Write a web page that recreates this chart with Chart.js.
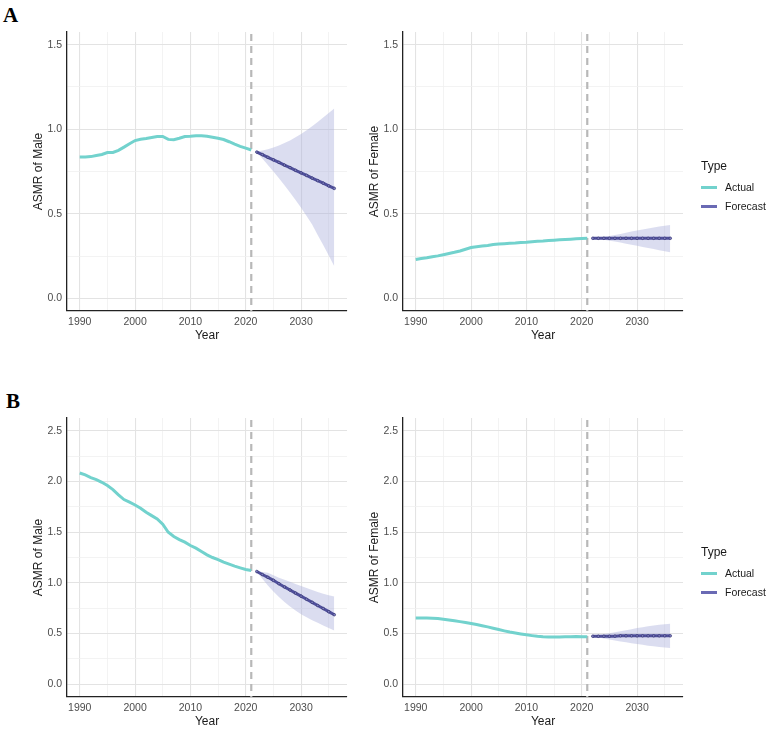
<!DOCTYPE html>
<html>
<head>
<meta charset="utf-8">
<script src="https://cdn.jsdelivr.net/npm/chart.js@4.4.1/dist/chart.umd.min.js"></script>
<style>
  body { margin: 0; width: 767px; height: 730px; background: #fff; position: relative; overflow: hidden;
         font-family: "Liberation Sans", Arial, sans-serif; }
  canvas { position: absolute; }
  .tag { position: absolute; font-family: "Liberation Serif", "Times New Roman", serif; font-weight: bold; font-size: 21px; color: #000; line-height: 1; }
  .lg { position: absolute; left: 701px; color: #1a1a1a; line-height: 1; }
  .lg .title { font-size: 12px; }
  .lg .row { font-size: 10.5px; position: absolute; left: 0; white-space: nowrap; }
  .lg .key { display: inline-block; width: 16px; height: 3px; vertical-align: middle; margin-right: 8px; position: relative; top: -1px; }
</style>
</head>
<body>
<div class="tag" style="left:3px;top:5px">A</div>
<div class="tag" style="left:6px;top:391px">B</div>

<canvas id="aMale" width="360" height="324" style="left:0;top:20px"></canvas>
<canvas id="aFemale" width="360" height="324" style="left:336px;top:20px"></canvas>
<canvas id="bMale" width="360" height="324" style="left:0;top:406px"></canvas>
<canvas id="bFemale" width="360" height="324" style="left:336px;top:406px"></canvas>

<div class="lg" style="top:160px">
  <div class="title">Type</div>
  <div class="row" style="top:22px"><span class="key" style="background:#72d2cd"></span>Actual</div>
  <div class="row" style="top:41px"><span class="key" style="background:#6a6ab4"></span>Forecast</div>
</div>
<div class="lg" style="top:546px">
  <div class="title">Type</div>
  <div class="row" style="top:22px"><span class="key" style="background:#72d2cd"></span>Actual</div>
  <div class="row" style="top:41px"><span class="key" style="background:#6a6ab4"></span>Forecast</div>
</div>

<script>
// years
const actualYears = [];
for (let y = 1990; y <= 2021; y++) actualYears.push(y);
const forecastYears = [];
for (let y = 2022; y <= 2036; y++) forecastYears.push(y);
const cutYear = 2021;

// x axis grid / labels
const xGrid = [1990, 1995, 2000, 2005, 2010, 2015, 2020, 2025, 2030, 2035];
const xLabels = [1990, 2000, 2010, 2020, 2030];

// y axis grid / labels
const yGridA = [0, 0.25, 0.5, 0.75, 1.0, 1.25, 1.5];
const yLabelsA = [0, 0.5, 1.0, 1.5];
const yGridB = [0, 0.25, 0.5, 0.75, 1.0, 1.25, 1.5, 1.75, 2.0, 2.25, 2.5];
const yLabelsB = [0, 0.5, 1.0, 1.5, 2.0, 2.5];

// A - male
const aMaleActual = [0.836, 0.836, 0.838, 0.845, 0.851, 0.862, 0.863, 0.875, 0.894, 0.914, 0.933, 0.941, 0.945, 0.951, 0.957, 0.957,
  0.940, 0.938, 0.947, 0.957, 0.959, 0.962, 0.962, 0.959, 0.953, 0.947, 0.939, 0.926, 0.912, 0.899, 0.888, 0.877];
const aMaleForecast = [0.865, 0.850, 0.834, 0.819, 0.804, 0.788, 0.773, 0.757, 0.742, 0.727, 0.711, 0.696, 0.681, 0.665, 0.650];
const aMaleUpper = [0.868, 0.874, 0.882, 0.892, 0.904, 0.918, 0.934, 0.952, 0.972, 0.994, 1.018, 1.043, 1.069, 1.096, 1.122];
const aMaleLower = [0.863, 0.827, 0.789, 0.750, 0.710, 0.669, 0.626, 0.581, 0.535, 0.487, 0.437, 0.375, 0.315, 0.253, 0.190];

// A - female
const aFemaleActual = [0.229, 0.235, 0.240, 0.246, 0.251, 0.258, 0.265, 0.272, 0.280, 0.290, 0.300, 0.305, 0.309, 0.313, 0.318, 0.321,
  0.323, 0.325, 0.327, 0.330, 0.332, 0.335, 0.337, 0.339, 0.342, 0.344, 0.346, 0.348, 0.350, 0.352, 0.354, 0.355];
const aFemaleForecast = [0.355, 0.355, 0.355, 0.355, 0.355, 0.355, 0.355, 0.355, 0.355, 0.355, 0.355, 0.355, 0.355, 0.355, 0.355];
const aFemaleUpper = [0.357, 0.360, 0.364, 0.369, 0.375, 0.381, 0.388, 0.395, 0.401, 0.407, 0.413, 0.419, 0.424, 0.429, 0.434];
const aFemaleLower = [0.353, 0.350, 0.346, 0.341, 0.336, 0.330, 0.323, 0.317, 0.311, 0.304, 0.298, 0.291, 0.285, 0.279, 0.273];

// B - male
const bMaleActual = [2.083, 2.064, 2.037, 2.018, 1.991, 1.959, 1.919, 1.867, 1.821, 1.795, 1.768, 1.736, 1.696, 1.663, 1.631, 1.578,
  1.499, 1.457, 1.427, 1.401, 1.368, 1.342, 1.309, 1.276, 1.250, 1.230, 1.204, 1.184, 1.165, 1.148, 1.132, 1.122];
const bMaleForecast = [1.112, 1.082, 1.055, 1.025, 0.992, 0.960, 0.930, 0.899, 0.869, 0.838, 0.808, 0.777, 0.747, 0.716, 0.686];
const bMaleUpper = [1.115, 1.108, 1.099, 1.075, 1.050, 1.030, 1.010, 0.990, 0.970, 0.950, 0.930, 0.910, 0.892, 0.878, 0.866];
const bMaleLower = [1.108, 1.040, 0.975, 0.915, 0.860, 0.812, 0.768, 0.728, 0.690, 0.660, 0.632, 0.606, 0.580, 0.555, 0.531];

// B - female
const bFemaleActual = [0.653, 0.654, 0.653, 0.651, 0.648, 0.642, 0.634, 0.626, 0.618, 0.610, 0.600, 0.590, 0.578, 0.566, 0.553, 0.540,
  0.527, 0.515, 0.505, 0.496, 0.488, 0.480, 0.473, 0.468, 0.466, 0.466, 0.467, 0.468, 0.470, 0.471, 0.470, 0.469];
const bFemaleForecast = [0.474, 0.474, 0.474, 0.474, 0.475, 0.478, 0.478, 0.478, 0.478, 0.478, 0.478, 0.478, 0.478, 0.478, 0.478];
const bFemaleUpper = [0.476, 0.484, 0.493, 0.503, 0.513, 0.524, 0.534, 0.544, 0.554, 0.563, 0.572, 0.580, 0.587, 0.593, 0.597];
const bFemaleLower = [0.472, 0.462, 0.452, 0.442, 0.432, 0.423, 0.414, 0.405, 0.397, 0.389, 0.381, 0.374, 0.367, 0.362, 0.358];

const actualColor = '#72d2cd';
const forecastColor = '#50509c';
const bandColor = 'rgba(170, 175, 220, 0.42)';

const pts = (xs, ys) => xs.map((x, i) => ({ x: x, y: ys[i] }));

// vertical dashed line at the last observed year
const cutLine = {
  id: 'cutLine',
  beforeDatasetsDraw(chart) {
    const { ctx, chartArea: a, scales: { x } } = chart;
    const px = x.getPixelForValue(cutYear);
    ctx.save();
    ctx.strokeStyle = '#b8b8b8';
    ctx.lineWidth = 2.2;
    ctx.setLineDash([7, 5]);
    ctx.beginPath();
    ctx.moveTo(px, a.top + 2);
    ctx.lineTo(px, a.bottom);
    ctx.stroke();
    ctx.restore();
  }
};

const makeChart = (id, actual, fc, lo, hi, yGrid, yLabels, yMin, yMax, yTitle) => {
  const ctx = document.getElementById(id).getContext('2d');
  return new Chart(ctx, {
    type: 'line',
    data: {
      datasets: [
        { data: pts(forecastYears, lo), borderWidth: 0, pointRadius: 0, fill: false, order: 4 },
        { data: pts(forecastYears, hi), borderWidth: 0, pointRadius: 0, fill: '-1', backgroundColor: bandColor, order: 3 },
        { data: pts(actualYears, actual), borderColor: actualColor, borderWidth: 3, pointRadius: 0, fill: false, order: 2 },
        { data: pts(forecastYears, fc), borderColor: forecastColor, borderWidth: 3, fill: false, order: 1,
          pointRadius: 1.3, pointBackgroundColor: '#7e7ec2', pointBorderColor: '#33336e', pointBorderWidth: 0.7 }
      ]
    },
    options: {
      responsive: false,
      animation: false,
      layout: { padding: { top: 12, right: 13, left: 0, bottom: 0 } },
      plugins: { legend: { display: false }, tooltip: { enabled: false } },
      scales: {
        x: {
          type: 'linear', min: 1987.7, max: 2038.3,
          afterBuildTicks: s => { s.ticks = xGrid.map(v => ({ value: v })); },
          afterFit: s => { s.height = 33; },
          ticks: { callback: v => xLabels.includes(v) ? String(v) : '', color: '#4d4d4d',
                   font: { family: 'Liberation Sans', size: 10.5 }, padding: 5, maxRotation: 0, autoSkip: false },
          grid: { drawTicks: false,
                  color: c => c.tick && xLabels.includes(c.tick.value) ? '#e3e3e3' : '#f0f0f0',
                  lineWidth: c => c.tick && xLabels.includes(c.tick.value) ? 1.1 : 0.8 },
          border: { display: true, color: '#222', width: 1.3 },
          title: { display: true, text: 'Year', color: '#1a1a1a',
                   font: { family: 'Liberation Sans', size: 12 }, padding: { top: 0, bottom: 1 } }
        },
        y: {
          min: yMin, max: yMax,
          afterBuildTicks: s => { s.ticks = yGrid.map(v => ({ value: v })); },
          afterFit: s => { s.width = 67; },
          ticks: { callback: v => yLabels.includes(v) ? v.toFixed(1) : '', color: '#4d4d4d',
                   font: { family: 'Liberation Sans', size: 10.5 }, padding: 5, autoSkip: false },
          grid: { drawTicks: false,
                  color: c => c.tick && yLabels.includes(c.tick.value) ? '#e3e3e3' : '#f0f0f0',
                  lineWidth: c => c.tick && yLabels.includes(c.tick.value) ? 1.1 : 0.8 },
          border: { display: true, color: '#222', width: 1.3 },
          title: { display: true, text: yTitle, color: '#1a1a1a',
                   font: { family: 'Liberation Sans', size: 12 }, padding: { top: 31, bottom: 0 } }
        }
      }
    },
    plugins: [cutLine]
  });
};

makeChart('aMale', aMaleActual, aMaleForecast, aMaleLower, aMaleUpper, yGridA, yLabelsA, -0.075, 1.575, 'ASMR of Male');
makeChart('aFemale', aFemaleActual, aFemaleForecast, aFemaleLower, aFemaleUpper, yGridA, yLabelsA, -0.075, 1.575, 'ASMR of Female');
makeChart('bMale', bMaleActual, bMaleForecast, bMaleLower, bMaleUpper, yGridB, yLabelsB, -0.125, 2.625, 'ASMR of Male');
makeChart('bFemale', bFemaleActual, bFemaleForecast, bFemaleLower, bFemaleUpper, yGridB, yLabelsB, -0.125, 2.625, 'ASMR of Female');
</script>
</body>
</html>
